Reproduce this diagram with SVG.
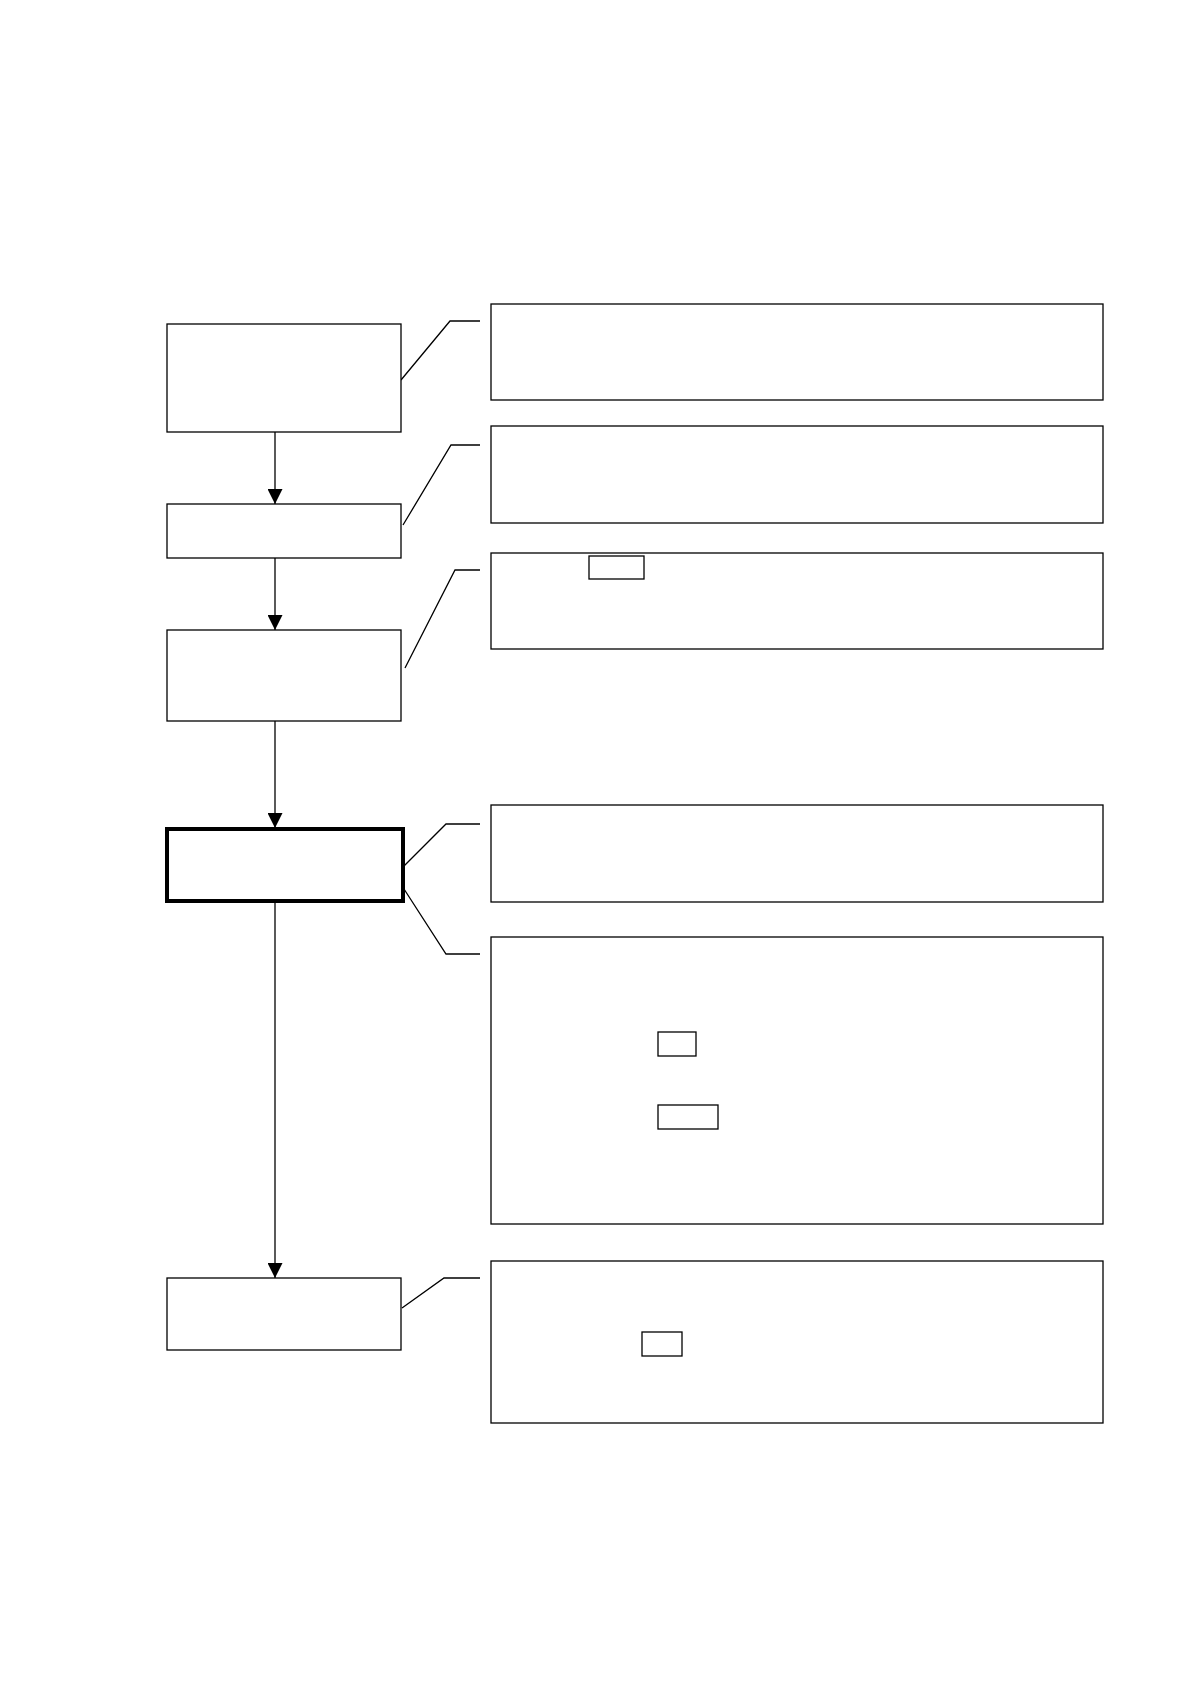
<svg xmlns="http://www.w3.org/2000/svg" width="1190" height="1684" viewBox="0 0 1190 1684">
<style>
rect{fill:#fff;stroke:#000;stroke-width:1.3}
.thick{stroke-width:4}
.c{fill:none;stroke:#000;stroke-width:1.3}
</style>
<defs><marker id="ah" markerWidth="16" markerHeight="15" refX="15" refY="7.5" orient="auto" markerUnits="userSpaceOnUse"><path d="M0,0L15,7.5L0,15z" fill="#000"/></marker></defs>
<rect width="1190" height="1684" style="stroke:none"/>
<g id="connectors">
<line class="c" x1="275" y1="432" x2="275" y2="504" marker-end="url(#ah)"/>
<line class="c" x1="275" y1="558" x2="275" y2="630" marker-end="url(#ah)"/>
<line class="c" x1="275" y1="721" x2="275" y2="828" marker-end="url(#ah)"/>
<line class="c" x1="275" y1="903" x2="275" y2="1278" marker-end="url(#ah)"/>
<polyline class="c" points="401,380 450,321 480,321"/>
<polyline class="c" points="403,525 451,445 480,445"/>
<polyline class="c" points="405,668 455,570 480,570"/>
<polyline class="c" points="404,866 446,824 480,824"/>
<polyline class="c" points="404,889 446,954 480,954"/>
<polyline class="c" points="402,1308 444,1278 480,1278"/>
</g>
<g id="n1"><rect x="167" y="324" width="234" height="108"/></g>
<g id="n2"><rect x="167" y="504" width="234" height="54"/></g>
<g id="n3"><rect x="167" y="630" width="234" height="91"/></g>
<g id="n4"><rect class="thick" x="167" y="829" width="236" height="72"/></g>
<g id="n5"><rect x="167" y="1278" width="234" height="72"/></g>
<g id="r1"><rect x="491" y="304" width="612" height="96"/></g>
<g id="r2"><rect x="491" y="426" width="612" height="97"/></g>
<g id="r3"><rect x="491" y="553" width="612" height="96"/><rect x="589" y="556" width="55" height="23"/></g>
<g id="r4"><rect x="491" y="805" width="612" height="97"/></g>
<g id="r5"><rect x="491" y="937" width="612" height="287"/><rect x="658" y="1032" width="38" height="24"/><rect x="658" y="1105" width="60" height="24"/></g>
<g id="r6"><rect x="491" y="1261" width="612" height="162"/><rect x="642" y="1332" width="40" height="24"/></g>
</svg>
